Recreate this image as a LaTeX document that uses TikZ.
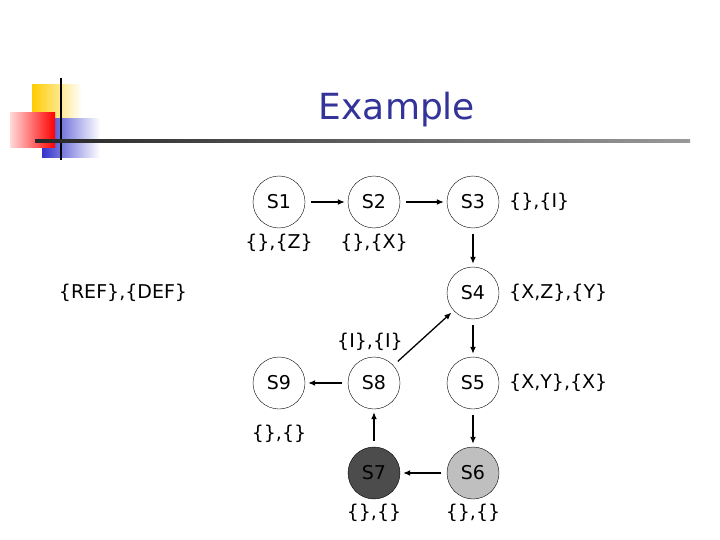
\documentclass[tikz,border=0pt]{standalone}
\usepackage{fontspec}
\setmainfont{DejaVu Sans}
\usetikzlibrary{arrows.meta}
\definecolor{titleblue}{RGB}{51,51,153}
\definecolor{gold}{RGB}{255,204,0}
\definecolor{lblue}{RGB}{51,51,204}
\begin{document}
\begin{tikzpicture}[x=1pt,y=-1pt,
  st/.style={circle,draw,thin,minimum size=52pt,inner sep=0pt,font=\fontsize{19}{22}\selectfont},
  lbl/.style={font=\fontsize{19}{22}\selectfont,inner sep=1pt},
  ar/.style={-{Latex[length=7pt,width=6pt]},line width=1.3pt,shorten >=3pt,shorten <=6pt}]
\useasboundingbox (0,0) rectangle (720,540);
% logo
\shade[left color=gold,right color=white] (32,85) rectangle (82,125);
\shade[left color=lblue,right color=white] (42,119) rectangle (100,158);
\shade[left color=red!15,right color=red] (10,113) rectangle (55,148);
\draw[line width=2.5pt] (61,78) -- (61,160);
\shade[left color=black!85,right color=black!40] (35,139.5) rectangle (690,142.5);
\node[font=\fontsize{36}{40}\selectfont,text=titleblue] (title) at (397,110) {Example};
% states
\node[st] (s1) at (279,202) {S1};
\node[st] (s2) at (374,202) {S2};
\node[st] (s3) at (473,202) {S3};
\node[st] (s4) at (473,293) {S4};
\node[st] (s5) at (473,383) {S5};
\node[st] (s8) at (374,383) {S8};
\node[st] (s9) at (279,383) {S9};
\node[st,fill=black!70] (s7) at (374,473) {S7};
\node[st,fill=black!25] (s6) at (473,473) {S6};
% labels
\node[lbl] (l1) at (279,243) {\{\},\{Z\}};
\node[lbl] (l2) at (374,243) {\{\},\{X\}};
\node[lbl,anchor=west] (l3) at (508,202) {\{\},\{I\}};
\node[lbl,anchor=west] (l4) at (508,293) {\{X,Z\},\{Y\}};
\node[lbl] (lref) at (123,293) {\{REF\},\{DEF\}};
\node[lbl] (l8) at (370,342) {\{I\},\{I\}};
\node[lbl,anchor=west] (l5) at (508,383) {\{X,Y\},\{X\}};
\node[lbl] (l9) at (279,434) {\{\},\{\}};
\node[lbl] (l7) at (374,513) {\{\},\{\}};
\node[lbl] (l6) at (473,513) {\{\},\{\}};
% arrows
\draw[ar] (s1) -- (s2);
\draw[ar] (s2) -- (s3);
\draw[ar] (s3) -- (s4);
\draw[ar] (s4) -- (s5);
\draw[ar] (s5) -- (s6);
\draw[ar] (s6) -- (s7);
\draw[ar] (s7) -- (s8);
\draw[ar] (s8) -- (s9);
\draw[ar] (s8) -- (s4);
\end{tikzpicture}
\end{document}
